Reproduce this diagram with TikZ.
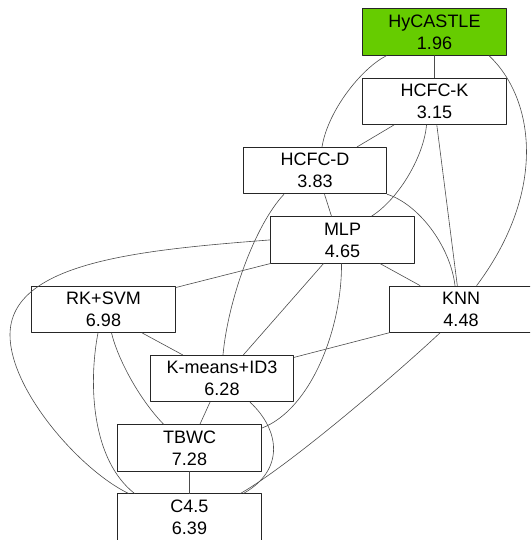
\documentclass[tikz,border=0pt]{standalone}
\usepackage{fontspec}
\setmainfont{Liberation Sans}
\definecolor{hygreen}{HTML}{66CC00}

\begin{document}
\begin{tikzpicture}[line cap=round,line join=round,x=1pt,y=-1pt,
    algo/.style={draw=black!85, line width=0.8pt, fill=white, minimum width=143.5pt, minimum height=46.5pt, inner sep=0pt, align=center, font=\fontsize{18}{22}\selectfont, execute at begin node={\rule{0pt}{17pt}}},
    best/.style={algo, fill=hygreen},
    link/.style={draw=black!70, line width=0.6pt}]
    \useasboundingbox (0,0) rectangle (530,540);
    \clip (0,0) rectangle (530,540);
    % ranking nodes
    \node[best] (hycastle) at (434.5,32) {HyCASTLE\\1.96};
    \node[algo] (hcfck) at (434.5,101.3) {HCFC-K\\3.15};
    \node[algo] (hcfcd) at (315,170.6) {HCFC-D\\3.83};
    \node[algo] (mlp) at (342.5,239.9) {MLP\\4.65};
    \node[algo] (rksvm) at (103.5,309.2) {RK+SVM\\6.98};
    \node[algo] (knn) at (461,309.2) {KNN\\4.48};
    \node[algo] (kmeans) at (222,378.5) {K-means+ID3\\6.28};
    \node[algo] (tbwc) at (189.5,447.8) {TBWC\\7.28};
    \node[algo] (cfour) at (189.5,517.1) {C4.5\\6.39};
    % links
    \draw [link] (hycastle) -- (hcfck);
    \draw [link] ([xshift=-48pt]hycastle.south) .. controls (362,68) and (328,110) .. ([xshift=7pt]hcfcd.north);
    \draw [link] ([xshift=54.5pt]hycastle.south) .. controls (534,98) and (548,190) .. ([xshift=15.7pt]knn.north);
    \draw [link] ([xshift=-40.5pt]hcfck.south) -- ([xshift=42pt]hcfcd.north);
    \draw [link] ([xshift=-8pt]hcfck.south) .. controls (424,155) and (400,198) .. ([xshift=29pt]mlp.north);
    \draw [link] ([xshift=2.3pt]hcfck.south) -- ([xshift=-3.7pt]knn.north);
    \draw [link] ([xshift=9.5pt]hcfcd.south) -- ([xshift=-11pt]mlp.north);
    \draw [link] (hcfcd.south east) .. controls (418,204) and (450,245) .. ([xshift=-6pt]knn.north);
    \draw [link] ([xshift=-31pt]hcfcd.south) .. controls (255,225) and (228,300) .. ([xshift=1pt]kmeans.north);
    \draw [link] (mlp.west) .. controls (140,250) and (10,262) .. (10,335) .. controls (10,390) and (80,470) .. ([xshift=-61pt]cfour.north);
    \draw [link] ([xshift=-1pt]mlp.south) .. controls (342,330) and (310,410) .. ([yshift=-4pt]tbwc.north east);
    \draw [link] ([xshift=-19pt]mlp.south) -- ([xshift=21.4pt]kmeans.north);
    \draw [link] ([xshift=37.5pt]mlp.south) -- ([xshift=-41pt]knn.north);
    \draw [link] (mlp.south west) -- ([yshift=-2pt]rksvm.north east);
    \draw [link] ([xshift=38.5pt]rksvm.south) -- ([xshift=-39.4pt]kmeans.north);
    \draw [link] ([xshift=8pt]rksvm.south) .. controls (118,360) and (140,400) .. ([xshift=-26pt]tbwc.north);
    \draw [link] ([xshift=-5.5pt]rksvm.south) .. controls (88,385) and (92,460) .. ([xshift=-55pt]cfour.north);
    \draw [link] (knn.south west) -- ([yshift=-2.5pt]kmeans.north east);
    \draw [link] ([xshift=-21pt]knn.south) .. controls (395,375) and (290,465) .. ([xshift=51pt]cfour.north);
    \draw [link] ([xshift=-12pt]kmeans.south) -- ([xshift=10.5pt]tbwc.north);
    \draw [link] ([xshift=28pt]kmeans.south) .. controls (280,430) and (285,470) .. ([xshift=54pt]cfour.north);
    \draw [link] (tbwc) -- (cfour);
\end{tikzpicture}
\end{document}
